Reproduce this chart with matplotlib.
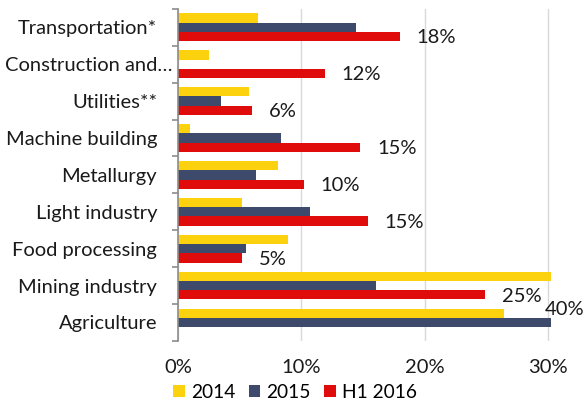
import matplotlib
matplotlib.use('Agg')
import matplotlib.pyplot as plt
import matplotlib.transforms as mtransforms
import numpy as np
from matplotlib.ticker import FixedLocator

plt.rcParams['font.family'] = ['Lato', 'DejaVu Sans']

categories = ['Transportation*', 'Construction and\u2026', 'Utilities**',
              'Machine building', 'Metallurgy', 'Light industry',
              'Food processing', 'Mining industry', 'Agriculture']
v2014 = [6.5, 2.5, 5.8, 1.0, 8.1, 5.2, 8.9, 30.5, 26.4]
v2015 = [14.4, 0.0, 3.5, 8.4, 6.3, 10.7, 5.5, 16.1, 30.5]
vH1_2016 = [18.0, 11.9, 6.0, 14.8, 10.2, 15.4, 5.2, 24.9, np.nan]
h1_labels = ['18%', '12%', '6%', '15%', '10%', '15%', '5%', '25%', '40%']
xticks = [0, 10, 20, 30]

YELLOW = '#FCD20F'
BLUE = '#3E4A6B'
RED = '#E00C0C'
FS = 14.5

fig = plt.figure(figsize=(5.85, 4.03), dpi=100)
ax = fig.add_axes([0.304, 0.154, 0.638, 0.824])

y = np.arange(len(categories))
h = 0.25
ax.barh(y - h, v2014, height=h, color=YELLOW, label='2014', zorder=3)
ax.barh(y, v2015, height=h, color=BLUE, label='2015', zorder=3)
ax.barh(y + h, vH1_2016, height=h, color=RED, label='H1 2016', zorder=3)

# data labels for H1 2016 (agriculture bar is off the scale)
for i, (val, lab) in enumerate(zip(vH1_2016, h1_labels)):
    if np.isnan(val):
        ax.text(29.75, i - 0.36, lab, ha='left', va='center', fontsize=FS,
                color='#1a1a1a', zorder=5, clip_on=False)
    else:
        ax.annotate(lab, xy=(val, i + h), xytext=(12, -1),
                    textcoords='offset points', ha='left', va='center',
                    fontsize=FS, color='#1a1a1a', zorder=5)

ax.set_xlim(0, 30.25)
ax.set_ylim(len(categories) - 0.5, -0.5)
ax.set_xticks(xticks)
ax.set_xticklabels([f'{t}%' for t in xticks])
ax.tick_params(axis='x', length=0, pad=13, labelsize=FS, colors='#1a1a1a')

ax.set_yticks(y)
ax.set_yticklabels(categories)
ax.tick_params(axis='y', which='major', length=0, pad=15, labelsize=FS,
               colors='#1a1a1a')
ax.yaxis.set_minor_locator(FixedLocator(np.arange(len(categories) + 1) - 0.5))
ax.tick_params(axis='y', which='minor', length=4, width=1.2, color='#8c8c8c',
               direction='out')

# the truncated label sits closer to the axis, as in the original
long_lab = ax.get_yticklabels()[1]
long_lab.set_transform(long_lab.get_transform() +
                       mtransforms.ScaledTranslation(0.15, 0, fig.dpi_scale_trans))

for s in ['top', 'right', 'bottom']:
    ax.spines[s].set_visible(False)
ax.spines['left'].set_color('#8c8c8c')
ax.spines['left'].set_linewidth(1.2)
ax.spines['left'].set_zorder(4)

ax.xaxis.grid(True, color='#d9d9d9', linewidth=1.0)
ax.set_axisbelow(True)

fig.legend(loc='center left', bbox_to_anchor=(0.296, 0.027), ncol=3,
           frameon=False, fontsize=13.8, handlelength=0.62, handleheight=0.62,
           handletextpad=0.3, columnspacing=0.7, borderaxespad=0,
           borderpad=0)

fig.savefig('out.png', dpi=100, facecolor='white')
